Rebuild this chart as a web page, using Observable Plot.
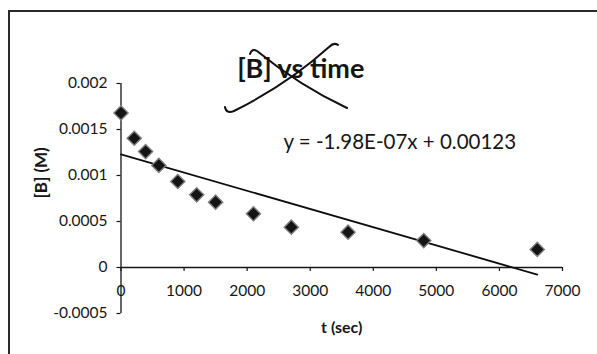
<!DOCTYPE html>
<html>
<head>
<meta charset="utf-8">
<script src="https://cdn.jsdelivr.net/npm/d3@7"></script>
<script src="https://cdn.jsdelivr.net/npm/@observablehq/plot@0.6"></script>
<style>
  html, body { margin: 0; padding: 0; background: #fff; overflow: hidden; }
  #wrap { position: relative; width: 597px; height: 354px; overflow: hidden; }
  #frame { position: absolute; left: 8px; top: 10px; width: 620px; height: 400px;
           border-top: 2px solid #2a2a2a; border-left: 2px solid #2a2a2a; }
  #chart { position: absolute; left: 0; top: 0; }
  #cross { position: absolute; left: 0; top: 0; pointer-events: none; }
</style>
</head>
<body>
<div id="wrap">
  <div id="frame"></div>
  <div id="chart"></div>
  <svg id="cross" width="597" height="354">
    <path d="M225,107 Q226,114 234,111 Q288,84 329,47 Q334,42 338,45" fill="none" stroke="#111" stroke-width="2" stroke-linecap="round"/>
    <path d="M250,54 Q252,48 257,51 Q300,86 347,108" fill="none" stroke="#111" stroke-width="2" stroke-linecap="round"/>
  </svg>
</div>
<script>
// Data
const times = [0, 210, 390, 600, 900, 1200, 1500, 2100, 2700, 3600, 4800, 6600];
const concB = [0.00168, 0.001405, 0.00126, 0.00111, 0.000935, 0.00079, 0.00071, 0.000584, 0.000438, 0.000384, 0.000293, 0.000196];

// Linear trendline (as printed on the chart)
const slope = -1.98e-7;
const intercept = 0.00123;
const trendT = [0, 6600];

// Axes
const xTicks = [0, 1000, 2000, 3000, 4000, 5000, 6000, 7000];
const xTickLabels = ["0", "1000", "2000", "3000", "4000", "5000", "6000", "7000"];
const yTicks = [0.002, 0.0015, 0.001, 0.0005, 0, -0.0005];
const yTickLabels = ["0.002", "0.0015", "0.001", "0.0005", "0", "-0.0005"];

const titleText = "[B] vs time";
const eqText = "y = -1.98E-07x + 0.00123";
const xTitle = "t (sec)";
const yTitle = "[B] (M)";

const points = times.map((t, i) => ({t, b: concB[i]}));
const trend = trendT.map(t => ({t, b: slope * t + intercept}));
const xTickData = xTicks.map((v, i) => ({v, label: xTickLabels[i]}));
const yLabelMap = new Map(yTicks.map((v, i) => [v, yTickLabels[i]]));

const font = "Lato, 'Open Sans', sans-serif";
const ink = "#161616";

const chart = Plot.plot({
  width: 597,
  height: 354,
  marginLeft: 120.5,
  marginRight: 35,
  marginTop: 83,
  marginBottom: 41,
  style: {fontFamily: font, background: "transparent", color: ink, overflow: "visible"},
  x: {domain: [0, 7000], axis: null},
  y: {domain: [-0.0005, 0.002], axis: null},
  marks: [
    // y axis
    Plot.axisY({ticks: yTicks, tickSize: 4, tickPadding: 9.5, tickFormat: d => yLabelMap.get(d),
                fontSize: 15.5, stroke: ink, fill: ink, strokeWidth: 1.2, label: null}),
    Plot.ruleX([0], {stroke: ink, strokeWidth: 1.3}),
    // x axis at zero
    Plot.ruleY([0], {x1: () => 0, x2: () => 7000, stroke: ink, strokeWidth: 1.3}),
    Plot.ruleX(xTickData, {x: "v", y1: () => 0, y2: () => 0, insetBottom: -4, stroke: ink, strokeWidth: 1.2}),
    Plot.text(xTickData, {x: "v", y: () => 0, text: "label", dy: 28.5, lineAnchor: "bottom",
                          fontSize: 15.5, fill: ink}),
    // trendline
    Plot.line(trend, {x: "t", y: "b", stroke: "#0d0d0d", strokeWidth: 1.8}),
    // data points
    Plot.dot(points, {x: "t", y: "b", symbol: "diamond2", r: 6.4, fill: "#141414",
                      stroke: "#808080", strokeWidth: 1.4}),
    // title
    Plot.text([titleText], {frameAnchor: "top", dx: -41, dy: -6, lineAnchor: "bottom",
                            fontSize: 27, fontWeight: "bold", fill: ink}),
    // equation
    Plot.text([eqText], {frameAnchor: "top-left", textAnchor: "start", lineAnchor: "bottom",
                         dx: 162.5, dy: 65, fontSize: 20.5, fill: ink}),
    // axis titles
    Plot.text([xTitle], {frameAnchor: "bottom", dy: 19, lineAnchor: "bottom",
                         fontSize: 16, fontWeight: "bold", fill: ink}),
    Plot.text([yTitle], {frameAnchor: "left", dx: -79.5, rotate: -90, lineAnchor: "middle",
                         fontSize: 17, fontWeight: "bold", fill: ink})
  ]
});
document.getElementById("chart").appendChild(chart);
</script>
</body>
</html>
